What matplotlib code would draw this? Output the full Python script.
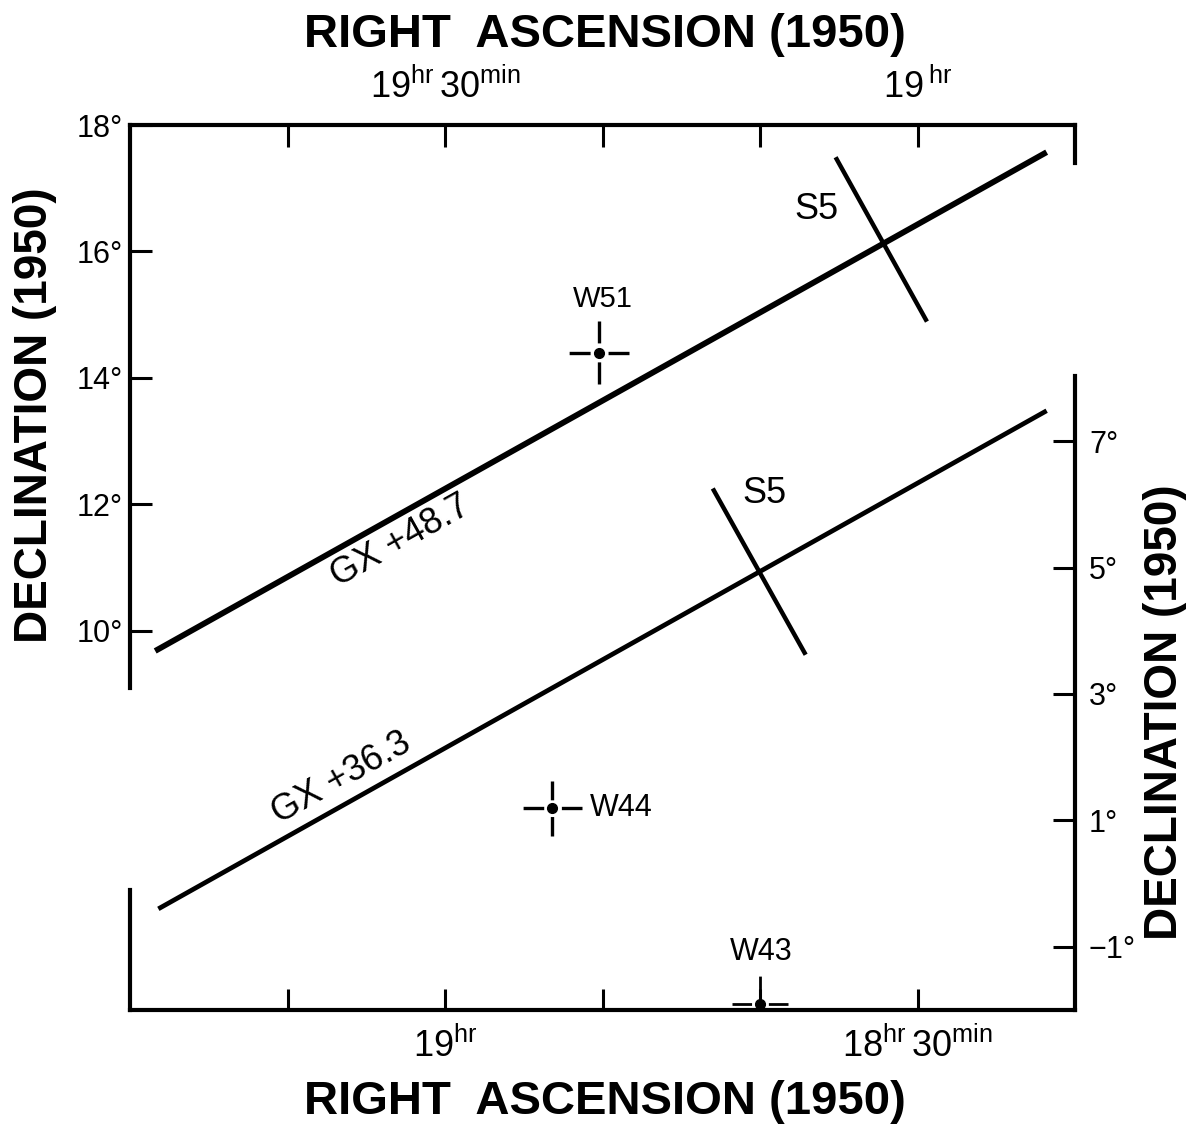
import numpy as np
import matplotlib.pyplot as plt

plt.rcParams['font.family'] = ['Liberation Sans', 'DejaVu Sans']
plt.rcParams['mathtext.fontset'] = 'custom'
plt.rcParams['mathtext.rm'] = 'Liberation Sans'
plt.rcParams['mathtext.it'] = 'Liberation Sans:italic'
plt.rcParams['mathtext.bf'] = 'Liberation Sans:bold'
plt.rcParams['lines.scale_dashes'] = False

# RA is in minutes past 18h. The lower source (GX +36.3) uses the bottom/right
# scales, the upper one (GX +48.7) the top/left scales.
ra_lo_lim = (80, 20)
dec_lo_lim = (-2, 12)
ra_hi_lim = (110, 50)
dec_hi_lim = (4, 18)

ra_lo_ticks = [70, 60, 50, 40, 30]
ra_lo_labels = ['', r'$19^{\mathrm{hr}}$', '', '', r'$18^{\mathrm{hr}}\,30^{\mathrm{min}}$']
ra_hi_ticks = [100, 90, 80, 70, 60]
ra_hi_labels = ['', r'$19^{\mathrm{hr}}\,30^{\mathrm{min}}$', '', '', r'$19\,^{\mathrm{hr}}$']
dec_lo_ticks = [-1, 1, 3, 5, 7]
dec_lo_labels = ['\u22121°', '1°', '3°', '5°', '7°']
dec_hi_ticks = [10, 12, 14, 16, 18]
dec_hi_labels = ['10°', '12°', '14°', '16°', '18°']

# error boxes (line ends)
gx487_ra = [108.4, 51.8]
gx487_dec = [9.68, 17.57]
gx363_ra = [78.2, 21.8]
gx363_dec = [-0.40, 7.48]
s5_hi_ra = [65.2, 59.4]
s5_hi_dec = [17.49, 14.89]
s5_lo_ra = [43.0, 37.1]
s5_lo_dec = [6.25, 3.62]

# radio sources: ra, dec, ra error, dec error
w51 = (80.2, 14.40, 1.9, 0.50)
w44 = (53.2, 1.19, 1.87, 0.44)
w43 = (40.0, -1.91, 1.78, 0.45)

fig = plt.figure(figsize=(11.92, 11.31), dpi=100)
rect = [130 / 1192, 1 - 1010 / 1131, 945 / 1192, 885 / 1131]
ax_lo = fig.add_axes(rect)
ax_hi = fig.add_axes(rect, facecolor='none')

ax_lo.set_xlim(*ra_lo_lim)
ax_lo.set_ylim(*dec_lo_lim)
ax_hi.set_xlim(*ra_hi_lim)
ax_hi.set_ylim(*dec_hi_lim)

spine_lw = 3.0
for ax in (ax_lo, ax_hi):
    for sp in ax.spines.values():
        sp.set_linewidth(spine_lw)
        sp.set_capstyle('projecting')

# lower frame: bottom + right, upper frame: top + left (both broken)
ax_lo.spines['top'].set_visible(False)
ax_lo.spines['left'].set_bounds(-2, -0.1)
ax_lo.spines['right'].set_bounds(-2, 8.03)
ax_hi.spines['bottom'].set_visible(False)
ax_hi.spines['left'].set_bounds(9.1, 18)
ax_hi.spines['right'].set_bounds(17.4, 18)

ax_lo.xaxis.set_ticks_position('bottom')
ax_lo.yaxis.tick_right()
ax_hi.xaxis.tick_top()
ax_hi.yaxis.tick_left()

ax_lo.set_xticks(ra_lo_ticks, ra_lo_labels)
ax_lo.set_yticks(dec_lo_ticks, dec_lo_labels)
ax_hi.set_xticks(ra_hi_ticks, ra_hi_labels)
ax_hi.set_yticks(dec_hi_ticks, dec_hi_labels)

ax_lo.tick_params(axis='x', direction='in', length=15, width=2.2, labelsize=26, pad=13)
ax_lo.tick_params(axis='y', direction='in', length=16, width=2.2, labelsize=22, pad=10)
ax_hi.tick_params(axis='x', direction='in', length=16, width=2.2, labelsize=26, pad=14)
ax_hi.tick_params(axis='y', direction='in', length=16, width=2.2, labelsize=22, pad=5)

# error boxes
ax_hi.plot(gx487_ra, gx487_dec, color='k', lw=4.2, solid_capstyle='butt')
ax_hi.plot(s5_hi_ra, s5_hi_dec, color='k', lw=3.2, solid_capstyle='butt')
ax_lo.plot(gx363_ra, gx363_dec, color='k', lw=3.4, solid_capstyle='butt')
ax_lo.plot(s5_lo_ra, s5_lo_dec, color='k', lw=3.2, solid_capstyle='butt')


def line_angle(ax, xs, ys):
    p = ax.transData.transform(np.column_stack([xs, ys]))
    return np.degrees(np.arctan2(p[1, 1] - p[0, 1], p[1, 0] - p[0, 0]))


def draw_source(ax, src, lw):
    ra, dec, dra, ddec = src
    eb = ax.errorbar([ra], [dec], xerr=[dra], yerr=[ddec], fmt='o', color='k',
                     ms=7, elinewidth=lw, capsize=0)
    hcol, vcol = eb[2]
    # dash - gap - dash, gap centred on the source
    for col, (x0, y0, x1, y1) in ((hcol, (ra - dra, dec, ra + dra, dec)),
                                  (vcol, (ra, dec - ddec, ra, dec + ddec))):
        p = ax.transData.transform([(x0, y0), (x1, y1)])
        L = np.hypot(*(p[1] - p[0])) * 72 / fig.dpi
        col.set_linestyle((0, (0.35 * L, 0.30 * L, 0.35 * L, 0.30 * L)))
        col.set_capstyle('butt')


draw_source(ax_hi, w51, 2.4)
draw_source(ax_lo, w44, 2.4)
draw_source(ax_lo, w43, 2.0)

# labels
ang_hi = line_angle(ax_hi, gx487_ra, gx487_dec)
ang_lo = line_angle(ax_lo, gx363_ra, gx363_dec)
ax_hi.text(92.85, 11.42, 'GX +48.7', fontsize=26, rotation=ang_hi,
           ha='center', va='center', rotation_mode='anchor')
ax_lo.text(66.6, 1.66, 'GX +36.3', fontsize=26, rotation=ang_lo,
           ha='center', va='center', rotation_mode='anchor')
ax_hi.text(66.4, 16.66, 'S5', fontsize=26, ha='center', va='center')
ax_lo.text(39.7, 6.17, 'S5', fontsize=26, ha='center', va='center')
ax_hi.text(80.0, 15.24, 'W51', fontsize=21, ha='center', va='center')
ax_lo.text(50.8, 1.19, 'W44', fontsize=22, ha='left', va='center')
ax_lo.text(39.9, -1.08, 'W43', fontsize=22, ha='center', va='center')

# axis titles
fig.text(605 / 1192, 1 - 35 / 1131, 'RIGHT  ASCENSION (1950)', fontsize=34,
         fontweight='bold', ha='center', va='center')
fig.text(605 / 1192, 1 - 1102 / 1131, 'RIGHT  ASCENSION (1950)', fontsize=34,
         fontweight='bold', ha='center', va='center')
fig.text(35 / 1192, 1 - 415 / 1131, 'DECLINATION (1950)', fontsize=33,
         fontweight='bold', ha='center', va='center', rotation=90)
fig.text(1165 / 1192, 1 - 712 / 1131, 'DECLINATION (1950)', fontsize=33,
         fontweight='bold', ha='center', va='center', rotation=90)

fig.savefig('out.png', dpi=100)
